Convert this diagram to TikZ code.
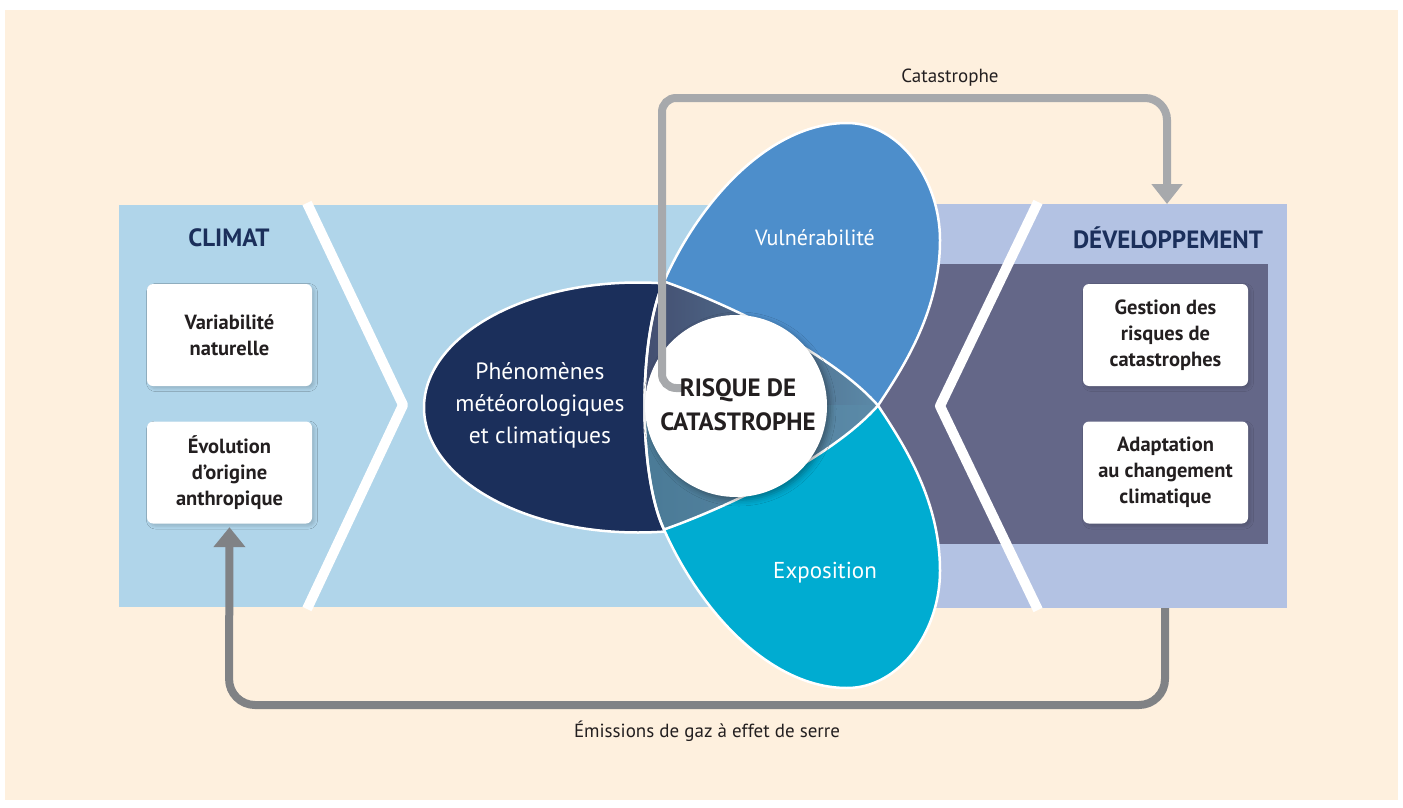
\documentclass[tikz,border=0pt]{standalone}
\usepackage{fontspec}
\setmainfont{PT Sans}
\usetikzlibrary{arrows.meta,shadows.blur}

\definecolor{paper}{HTML}{FEF0DE}
\definecolor{climblue}{HTML}{B0D5EA}
\definecolor{devlav}{HTML}{B3C2E3}
\definecolor{devband}{HTML}{646788}
\definecolor{navy}{HTML}{1B2F5B}
\definecolor{vulnblue}{HTML}{4D8ECB}
\definecolor{expocyan}{HTML}{00ACD1}
\definecolor{lensTop}{HTML}{434D6F}
\definecolor{lensBot}{HTML}{4A7A96}
\definecolor{lensMid}{HTML}{5B8AA8}
\definecolor{inkdark}{HTML}{231F20}
\definecolor{arrowlight}{HTML}{A7A9AC}
\definecolor{arrowdark}{HTML}{808285}

% the two petals share their left edge and mirror each other about y = 405.5
\def\vulnpath{(664,529.5) .. controls (638,475) and (638,337) .. (664,281.5)
  .. controls (700,200) and (770,123) .. (847,123)
  .. controls (900,123) and (940,180) .. (940,240)
  .. controls (940,310) and (905,365) .. (878,405.5)
  .. controls (830,460) and (720,510) .. (664,529.5) -- cycle}
\def\expopath{(664,281.5) .. controls (638,336) and (638,474) .. (664,529.5)
  .. controls (700,611) and (770,688) .. (847,688)
  .. controls (900,688) and (940,631) .. (940,571)
  .. controls (940,501) and (905,446) .. (878,405.5)
  .. controls (830,351) and (720,301) .. (664,281.5) -- cycle}

\begin{document}
\begin{tikzpicture}[x=1pt,y=-1pt,
  infobox/.style={fill=white, rounded corners=6pt, minimum width=165pt,
    minimum height=102pt, inner sep=2pt, align=center, text=inkdark,
    font=\fontsize{20.5}{26}\selectfont\bfseries,
    blur shadow={shadow xshift=2.5pt, shadow yshift=-2.5pt,
      shadow blur radius=3pt, shadow opacity=16}},
  paneltitle/.style={text=navy, font=\fontsize{25}{28}\selectfont\bfseries},
  petaltext/.style={text=white, align=center},
  chevronline/.style={draw=white, line width=10pt, line join=round},
  petaledge/.style={draw=white, line width=2.5pt},
  catline/.style={draw=arrowlight, line width=8pt,
    -{Triangle[width=30pt,length=20pt]}},
  emline/.style={draw=arrowdark, line width=8pt, rounded corners=26pt,
    -{Triangle[width=31pt,length=20pt]}, shorten >=3.5pt},
  caption/.style={text=inkdark, font=\fontsize{19}{22}\selectfont}
]
\useasboundingbox (0,0) rectangle (1403,808);
\fill[white] (0,0) rectangle (1403,808);
\fill[paper] (5,10) rectangle (1398,800);

% side panels and the dark band
\fill[climblue] (119,205) rectangle (820,607);
\fill[devlav] (820,204) rectangle (1287,608);
\fill[devband] (800,264) rectangle (1268,544);

% chevrons
\draw[chevronline] (307,203) -- (403,405) -- (307,609);
\draw[chevronline] (1038,202) -- (940,406) -- (1038,610);

% panel titles
\node[paneltitle] (climat) at (229,238) {CLIMAT};
\node[paneltitle] (dev) at (1168,238) {DÉVELOPPEMENT};

% boxes
\node[infobox] (var) at (229.5,335) {Variabilité\\naturelle};
\node[infobox] (evol) at (229.5,472.5) {Évolution\\d’origine\\anthropique};
\node[infobox] (gest) at (1165.5,335) {Gestion des\\risques de\\catastrophes};
\node[infobox] (adapt) at (1165.5,472.5) {Adaptation\\au changement\\climatique};

% hazard ellipse
\path[fill=navy, draw=white, line width=2.5pt]
  (638,407.5) ellipse [x radius=214, y radius=125];

% vulnerability and exposure petals
\fill[vulnblue] \vulnpath;
\fill[expocyan] \expopath;

% overlap of the two petals
\begin{scope}
  \clip \vulnpath;
  \clip \expopath;
  \fill[left color=lensTop, right color=lensMid] (640,270) rectangle (880,405.5);
  \fill[left color=lensBot, right color=lensMid] (640,405.5) rectangle (880,540);
\end{scope}

\draw[petaledge] \vulnpath;
\draw[petaledge] \expopath;

% central disc
\node[circle, fill=white, minimum size=182pt, inner sep=0pt,
  blur shadow={shadow xshift=3pt, shadow yshift=-3pt,
    shadow blur radius=6pt, shadow opacity=35}] (disc) at (736,406) {};

% catastrophe loop
\coordinate (catStart) at (684,388);
\coordinate (catTurn) at (662,98);
\coordinate (catEnd) at (1167,204);
\draw[catline] (catStart) [rounded corners=14pt] -| (catTurn)
  [rounded corners=22pt] -| (catEnd);
\node[caption] (catlabel) at (950,78) {Catastrophe};

% labels
\node[text=inkdark, align=center, font=\fontsize{25}{34}\selectfont\bfseries]
  (risk) at (738,405) {RISQUE DE\\CATASTROPHE};
\node[petaltext, font=\fontsize{23.5}{32}\selectfont] (haz) at (540,405)
  {Phénomènes\\météorologiques\\et climatiques};
\node[petaltext, font=\fontsize{22}{25}\selectfont] (vuln) at (815,238) {Vulnérabilité};
\node[petaltext, font=\fontsize{23}{25}\selectfont] (expo) at (825,573) {Exposition};

% emissions loop
\coordinate (emStart) at (1165,608);
\coordinate (emTurn) at (229,705);
\draw[emline] (emStart) |- (emTurn) -- (evol.south);
\node[caption] (emlabel) at (707,731) {Émissions de gaz à effet de serre};
\end{tikzpicture}
\end{document}
